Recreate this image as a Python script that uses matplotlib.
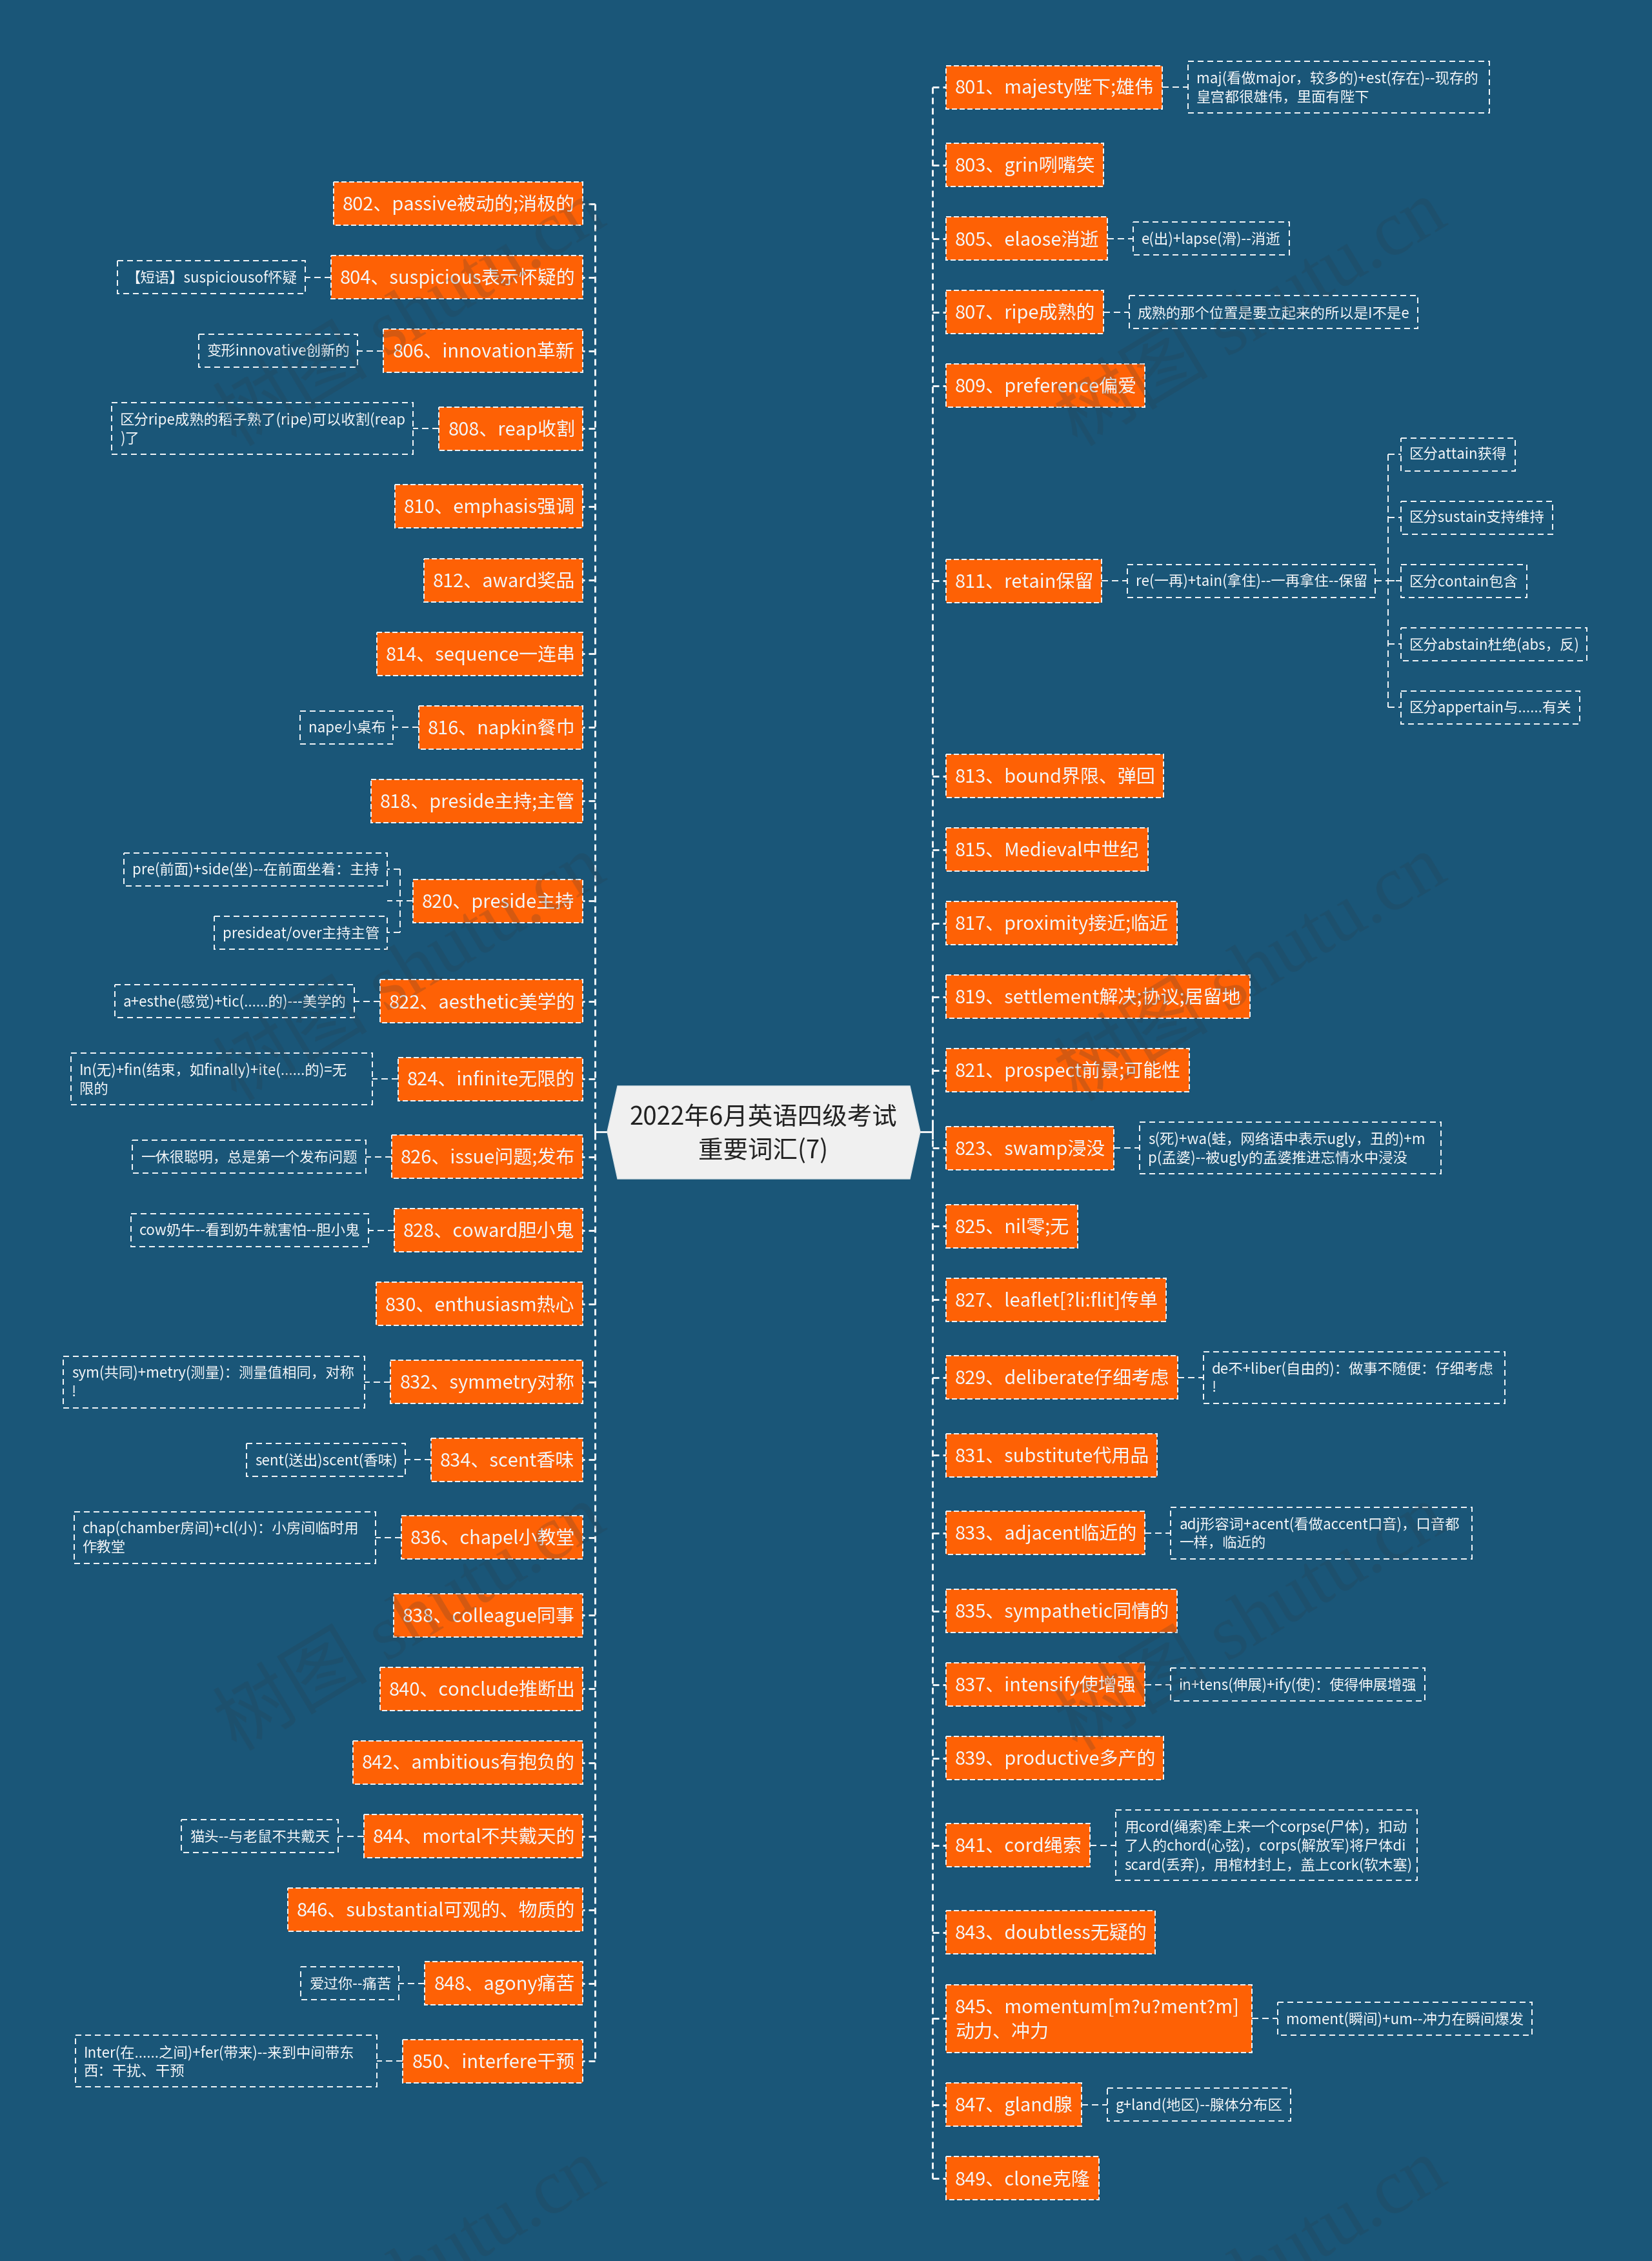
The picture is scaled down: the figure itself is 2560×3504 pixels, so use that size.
import matplotlib
matplotlib.use("Agg")
import matplotlib.pyplot as plt
from matplotlib.patches import Rectangle, Polygon
from matplotlib.font_manager import FontProperties
from matplotlib.textpath import TextPath

plt.rcParams['font.family'] = ['Noto Sans CJK SC', 'DejaVu Sans']
plt.rcParams['lines.scale_dashes'] = False

# Chart text
title_lines = ["2022年6月英语四级考试", "重要词汇(7)"]

left_labels = [
    "802、passive被动的;消极的", "804、suspicious表示怀疑的", "806、innovation革新", "808、reap收割",
    "810、emphasis强调", "812、award奖品", "814、sequence一连串", "816、napkin餐巾",
    "818、preside主持;主管", "820、preside主持", "822、aesthetic美学的", "824、infinite无限的",
    "826、issue问题;发布", "828、coward胆小鬼", "830、enthusiasm热心", "832、symmetry对称",
    "834、scent香味", "836、chapel小教堂", "838、colleague同事", "840、conclude推断出",
    "842、ambitious有抱负的", "844、mortal不共戴天的", "846、substantial可观的、物质的",
    "848、agony痛苦", "850、interfere干预",
]
left_notes = [
    None, "【短语】suspiciousof怀疑", "变形innovative创新的", "区分ripe成熟的稻子熟了(ripe)可以收割(reap\n)了",
    None, None, None, "nape小桌布",
    None, None, "a+esthe(感觉)+tic(......的)---美学的", "In(无)+fin(结束，如finally)+ite(......的)=无\n限的",
    "一休很聪明，总是第一个发布问题", "cow奶牛--看到奶牛就害怕--胆小鬼", None, "sym(共同)+metry(测量)：测量值相同，对称\n!",
    "sent(送出)scent(香味)", "chap(chamber房间)+cl(小)：小房间临时用\n作教堂", None, None,
    None, "猫头--与老鼠不共戴天", None,
    "爱过你--痛苦", "Inter(在......之间)+fer(带来)--来到中间带东\n西：干扰、干预",
]
preside_children = ["pre(前面)+side(坐)--在前面坐着：主持", "presideat/over主持主管"]

right_labels = [
    "801、majesty陛下;雄伟", "803、grin咧嘴笑", "805、elaose消逝", "807、ripe成熟的", "809、preference偏爱",
    "811、retain保留", "813、bound界限、弹回", "815、Medieval中世纪", "817、proximity接近;临近",
    "819、settlement解决;协议;居留地", "821、prospect前景;可能性", "823、swamp浸没", "825、nil零;无",
    "827、leaflet[?li:flit]传单", "829、deliberate仔细考虑", "831、substitute代用品", "833、adjacent临近的",
    "835、sympathetic同情的", "837、intensify使增强", "839、productive多产的", "841、cord绳索",
    "843、doubtless无疑的", "845、momentum[m?u?ment?m]\n动力、冲力", "847、gland腺", "849、clone克隆",
]
right_notes = [
    "maj(看做major，较多的)+est(存在)--现存的\n皇宫都很雄伟，里面有陛下", None, "e(出)+lapse(滑)--消逝",
    "成熟的那个位置是要立起来的所以是I不是e", None,
    "re(一再)+tain(拿住)--一再拿住--保留", None, None, None,
    None, None, "s(死)+wa(蛙，网络语中表示ugly，丑的)+m\np(孟婆)--被ugly的孟婆推进忘情水中浸没", None,
    None, "de不+liber(自由的)：做事不随便：仔细考虑\n!", None, "adj形容词+acent(看做accent口音)，口音都\n一样，临近的",
    None, "in+tens(伸展)+ify(使)：使得伸展增强", None,
    "用cord(绳索)牵上来一个corpse(尸体)，扣动\n了人的chord(心弦)，corps(解放军)将尸体di\nscard(丢弃)，用棺材封上，盖上cork(软木塞)",
    None, "moment(瞬间)+um--冲力在瞬间爆发", "g+land(地区)--腺体分布区", None,
]
retain_children = ["区分attain获得", "区分sustain支持维持", "区分contain包含", "区分abstain杜绝(abs，反)", "区分appertain与......有关"]

watermark = "树图 shutu.cn"

# Colours and sizes (pixels)
BG = "#1a5678"
ORANGE = "#fe6105"
WHITE = "#f4f6f8"
LINE = "#eef2f5"
px = 72 / 100

NODE_FS, NODE_LH, NODE_PAD, NODE_WRAP_W = 29, 38.5, 14, 474
NOTE_FS, NOTE_LH, NOTE_PAD, NOTE_WRAP_W = 22.4, 29, 13, 467
GAP = 47.1


def text_w(s, fs):
    return TextPath((0, 0), s, size=fs, prop=FontProperties(family=['Noto Sans CJK SC', 'DejaVu Sans'])).get_extents().x1


def box_w(s, fs, pad, wrap_w):
    # wrapped text sits in a box of fixed width, one line boxes follow the text
    if "\n" in s:
        return wrap_w
    return text_w(s, fs) + 2 * pad


def node_h(s):
    return NODE_LH * s.count("\n") + 67


def note_h(s):
    return NOTE_LH * s.count("\n") + 51


def dash_line(ax, xs, ys, lw=3, dash=(10, 6)):
    ax.plot(xs, ys, color=LINE, lw=lw * px, ls=(0, (dash[0] * px, dash[1] * px)), zorder=2, solid_capstyle='butt')


def put_text(ax, s, x, cy, fs, lh, ha, color=WHITE):
    rows = s.split("\n")
    for i, row in enumerate(rows):
        y = cy + (i - (len(rows) - 1) / 2) * lh + 0.36 * fs
        ax.text(x, y, row, fontsize=fs * px, ha=ha, va='baseline', color=color, zorder=4)


def draw_note(ax, s, edge, cy, side):
    w = box_w(s, NOTE_FS, NOTE_PAD, NOTE_WRAP_W)
    h = note_h(s)
    x0 = edge if side > 0 else edge - w
    ax.add_patch(Rectangle((x0, cy - h / 2), w, h, fc='none', ec=LINE, lw=2 * px,
                           ls=(0, (9 * px, 6 * px)), zorder=3))
    put_text(ax, s, x0 + NOTE_PAD, cy, NOTE_FS, NOTE_LH, 'left')
    return x0 + w if side > 0 else x0


def draw_side(ax, labels, notes, children, start_y, box_edge, trunk_x, side):
    y = start_y
    centers = []
    for label, note in zip(labels, notes):
        h = node_h(label)
        kids = children.get(label)
        row = h
        if note:
            row = max(row, note_h(note))
        if kids:
            row = max(row, 51 * len(kids) + GAP * (len(kids) - 1))
        cy = y + row / 2
        centers.append(cy)

        w = box_w(label, NODE_FS, NODE_PAD, NODE_WRAP_W)
        x0 = box_edge if side > 0 else box_edge - w
        ax.add_patch(Rectangle((x0, cy - h / 2), w, h, fc=ORANGE, ec=LINE, lw=2 * px,
                               ls=(0, (8 * px, 4 * px)), zorder=3))
        put_text(ax, label, x0 + NODE_PAD, cy, NODE_FS, NODE_LH, 'left')
        dash_line(ax, [trunk_x, box_edge], [cy, cy], lw=3)

        outer = x0 + w if side > 0 else x0
        if note:
            dash_line(ax, [outer, outer + side * 40], [cy, cy], lw=2)
            outer = draw_note(ax, note, outer + side * 40, cy, side)
        if kids:
            hinge = outer + side * 20
            dash_line(ax, [outer, outer + side * 40], [cy, cy], lw=2)
            total = 51 * len(kids) + GAP * (len(kids) - 1)
            kid_y = cy - total / 2 + 25.5
            first = kid_y
            for kid in kids:
                dash_line(ax, [hinge, outer + side * 40], [kid_y, kid_y], lw=2)
                draw_note(ax, kid, outer + side * 40, kid_y, side)
                last = kid_y
                kid_y += 51 + GAP
            dash_line(ax, [hinge, hinge], [first, last], lw=2)
        y += row + GAP
    dash_line(ax, [trunk_x, trunk_x], [centers[0], centers[-1]], lw=3)


fig = plt.figure(figsize=(25.6, 35.04), dpi=100, facecolor=BG)
ax = fig.add_axes([0, 0, 1, 1])
ax.set_xlim(0, 2560)
ax.set_ylim(3504, 0)
ax.axis('off')

draw_side(ax, left_labels, left_notes, {left_labels[9]: preside_children}, 282, 903, 922, -1)
draw_side(ax, right_labels, right_notes, {right_labels[5]: retain_children}, 95, 1466, 1445, 1)

# Centre topic
ax.add_patch(Polygon([(941, 1754), (957, 1683), (1410, 1683), (1426, 1754), (1410, 1827), (957, 1827)],
                     fc="#f0f0f0", ec="#dfe6ea", lw=1, zorder=5))
ax.plot([922, 941], [1754, 1754], color=LINE, lw=3 * px, zorder=2)
ax.plot([1426, 1445], [1754, 1754], color=LINE, lw=3 * px, zorder=2)
ax.plot([922, 922], [1744, 1764], color=LINE, lw=3 * px, zorder=2)
ax.plot([1445, 1445], [1744, 1764], color=LINE, lw=3 * px, zorder=2)
for i, line in enumerate(title_lines):
    ax.text(1183, 1729 + i * 52 + 14, line, fontsize=38.5 * px, ha='center', va='baseline', color="#222222", zorder=6)

# Watermark tiles
for wx in (640, 1943):
    for wy in (495, 1510, 2517, 3530):
        ax.text(wx, wy, watermark, fontsize=120 * px, rotation=31, rotation_mode='anchor',
                family=['Liberation Serif', 'Noto Sans CJK SC'], ha='center', va='center',
                color="#2a3a44", alpha=0.2, zorder=7)

fig.savefig("out.png", dpi=100, facecolor=BG)
